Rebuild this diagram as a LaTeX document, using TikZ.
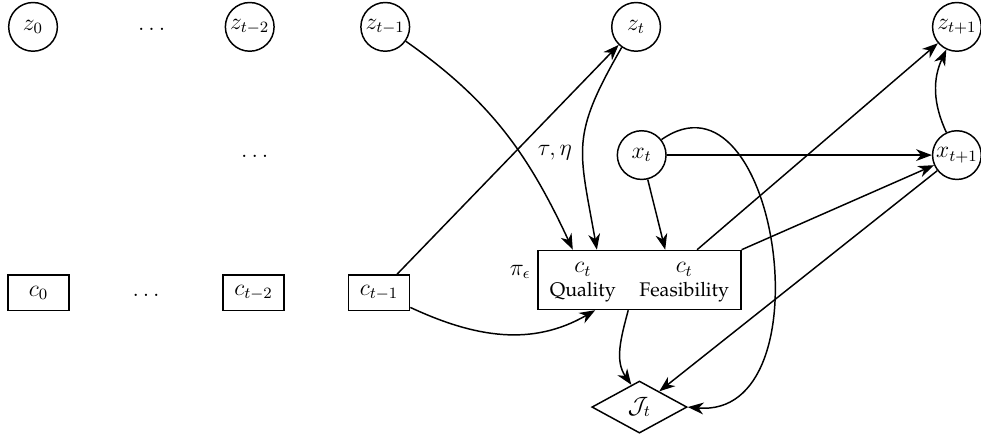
\documentclass[tikz,border=0pt]{standalone}
\usepackage[T1]{fontenc}
\usepackage{palatino}
\usepackage{amsmath}
\usetikzlibrary{shapes.geometric, arrows.meta, positioning, calc}
\tikzset{
    var/.style={
        circle, draw, line width=0.75pt, font=\large,
        minimum size=0.87cm, inner sep=0pt
    },
    ctx/.style={
        rectangle, draw, line width=0.75pt, font=\large,
        minimum width=1.09cm, minimum height=0.64cm
    },
    bigbox/.style={
        rectangle, draw, line width=0.75pt,
        inner xsep=0pt, inner ysep=3pt
    },
    obj/.style={
        diamond, draw, line width=0.75pt, font=\large,
        minimum width=1.7cm, minimum height=0.93cm, inner sep=1pt
    },
    arrow/.style={-{Stealth[length=8pt, width=6pt, inset=2.5pt]}, line width=0.75pt},
    anno/.style={inner sep=1pt, font=\large}
}

\begin{document}
\begin{tikzpicture}
    \useasboundingbox (0,0) rectangle (17.52,7.77);

    % top row: z
    \node[var] (z0) at (0.59,7.29) {$z_0$};
    \node[anno] (zdots) at (2.71,7.24) {$\ldots$};
    \node[var] (zt2) at (4.46,7.29) {$z_{t-2}$};
    \node[var] (zt1) at (6.88,7.29) {$z_{t-1}$};
    \node[var] (zt) at (11.36,7.29) {$z_t$};
    \node[var] (ztp1) at (17.09,7.29) {$z_{t+1}$};

    % middle row: x
    \node[anno] (xdots) at (4.55,4.97) {$\ldots$};
    \node[var] (xt) at (11.46,5.0) {$x_t$};
    \node[var] (xtp1) at (17.09,5.0) {$x_{t+1}$};

    % bottom row: c
    \node[ctx] (c0) at (0.69,2.54) {$c_0$};
    \node[anno] (cdots) at (2.61,2.49) {$\ldots$};
    \node[ctx] (ct2) at (4.53,2.54) {$c_{t-2}$};
    \node[ctx] (ct1) at (6.77,2.54) {$c_{t-1}$};
    \node[bigbox] (box) at (11.42,2.77) {%
        \begin{tabular}{cc}
            {\large$c_t$} & {\large$c_t$} \\
            Quality & Feasibility
        \end{tabular}};
    \node[obj] (J) at (11.42,0.5) {$\mathcal{J}_t$};

    % labels
    \node[anno] (taueta) at (9.91,5.05) {$\tau, \eta$};
    \node[anno] (pieps) at (9.29,2.91) {$\pi_\epsilon$};

    % edges
    \draw[arrow] (zt1) to[out=-35, in=115] ([xshift=-1.19cm]box.north);
    \draw[arrow] (zt.-125) to[out=-120, in=100, looseness=1.3] ([xshift=-0.76cm]box.north);
    \draw[arrow] (ct1) -- (zt);
    \draw[arrow] (ct1.-25) to[out=-25, in=-150] ([xshift=-0.79cm]box.south);
    \draw[arrow] (xt) -- ([xshift=0.46cm]box.north);
    \draw[arrow] (xt) -- (xtp1);
    \draw[arrow] (xt.38) to[out=35, in=-5, looseness=1.35] (J.east);
    \draw[arrow] ([xshift=1.03cm]box.north) -- (ztp1);
    \draw[arrow] (box.north east) -- (xtp1);
    \draw[arrow] (xtp1) to[bend left=25] (ztp1);
    \draw[arrow] (xtp1) -- (J);
    \draw[arrow] ([xshift=-0.2cm]box.south) to[out=-105, in=125] (J.110);
\end{tikzpicture}
\end{document}
